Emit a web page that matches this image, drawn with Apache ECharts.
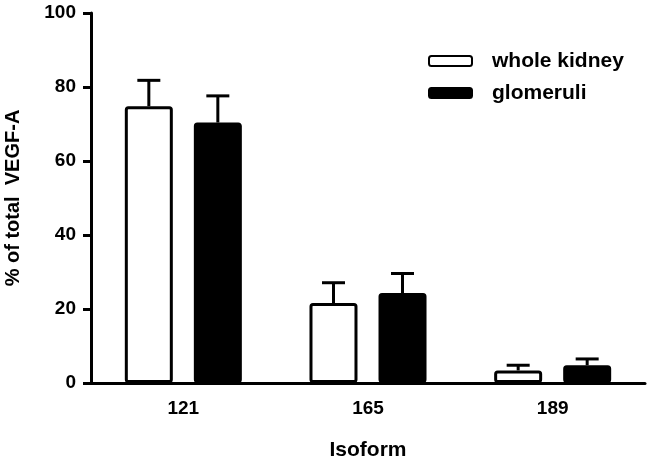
<!DOCTYPE html>
<html>
<head>
<meta charset="utf-8">
<script src="https://cdn.jsdelivr.net/npm/echarts@6/dist/echarts.min.js"></script>
<style>html,body{margin:0;padding:0;background:#fff;}#c{width:648px;height:458px;}</style>
</head>
<body>
<div id="c"></div>
<script>
const categories = ['121', '165', '189'];
const wholeKidney = [74.8, 21.6, 3.4];
const wholeKidneyErr = [7.0, 5.5, 1.4];
const glomeruli = [70.4, 24.3, 4.8];
const glomeruliErr = [7.2, 5.3, 1.7];
const yTicks = [0, 20, 40, 60, 80, 100];

const FONT = 'Liberation Sans, Arial, sans-serif';
const BAR_W = 48, GAP = 21;
const OFFSET = (BAR_W + GAP) / 2;

function errSeries(vals, errs, dir) {
  return {
    type: 'custom',
    silent: true,
    z: 1,
    data: vals.map((v, i) => [i, v, v + errs[i]]),
    renderItem: function (params, api) {
      const i = api.value(0);
      const base = api.coord([i, api.value(1)]);
      const top = api.coord([i, api.value(2)]);
      const x = base[0] + dir * OFFSET;
      const hw = 11.5;
      const style = { stroke: '#000', lineWidth: 3, fill: null };
      return {
        type: 'group',
        children: [
          { type: 'line', shape: { x1: x, y1: base[1], x2: x, y2: top[1] }, style: style },
          { type: 'line', shape: { x1: x - hw, y1: top[1], x2: x + hw, y2: top[1] }, style: style }
        ]
      };
    }
  };
}

const chart = echarts.init(document.getElementById('c'), null, { renderer: 'canvas' });
chart.setOption({
  animation: false,
  backgroundColor: '#fff',
  textStyle: { fontFamily: FONT },
  grid: { left: 91, right: 3, top: 13, bottom: 75, containLabel: false, outerBoundsMode: 'none' },
  legend: {
    orient: 'vertical',
    left: 428,
    top: 50,
    padding: 0,
    itemWidth: 43,
    itemHeight: 10,
    itemGap: 10,
    icon: 'roundRect',
    textStyle: { fontFamily: FONT, fontWeight: 'bold', fontSize: 21, color: '#000', lineHeight: 22, padding: [0, 0, 0, 15] },
    data: ['whole kidney', 'glomeruli']
  },
  xAxis: {
    type: 'category',
    data: categories,
    name: 'Isoform',
    nameLocation: 'middle',
    nameGap: 57,
    nameTextStyle: { fontFamily: FONT, fontWeight: 'bold', fontSize: 21, color: '#000' },
    axisLine: { lineStyle: { color: '#000', width: 3 } },
    axisTick: { alignWithLabel: true, length: 8, lineStyle: { color: '#000', width: 3 } },
    axisLabel: { margin: 16, fontFamily: FONT, fontWeight: 'bold', fontSize: 19, color: '#000' },
    splitLine: { show: false }
  },
  yAxis: {
    type: 'value',
    min: yTicks[0],
    max: yTicks[yTicks.length - 1],
    interval: 20,
    name: '% of total  VEGF-A',
    nameLocation: 'middle',
    nameGap: 68,
    nameTextStyle: { fontFamily: FONT, fontWeight: 'bold', fontSize: 20, color: '#000' },
    axisLine: { show: true, lineStyle: { color: '#000', width: 3 } },
    axisTick: { show: true, length: 8, lineStyle: { color: '#000', width: 3 } },
    axisLabel: { margin: 15, fontFamily: FONT, fontWeight: 'bold', fontSize: 19, color: '#000' },
    splitLine: { show: false }
  },
  series: [
    {
      name: 'whole kidney',
      type: 'bar',
      data: wholeKidney,
      barWidth: BAR_W,
      barGap: (GAP / BAR_W * 100).toFixed(1) + '%',
      z: 2,
      itemStyle: { color: '#fff', borderColor: '#000', borderWidth: 3, borderRadius: 2 }
    },
    {
      name: 'glomeruli',
      type: 'bar',
      data: glomeruli,
      barWidth: BAR_W,
      z: 2,
      itemStyle: { color: '#000', borderColor: '#000', borderWidth: 3, borderRadius: 2 }
    },
    errSeries(wholeKidney, wholeKidneyErr, -1),
    errSeries(glomeruli, glomeruliErr, 1)
  ]
});
</script>
</body>
</html>
